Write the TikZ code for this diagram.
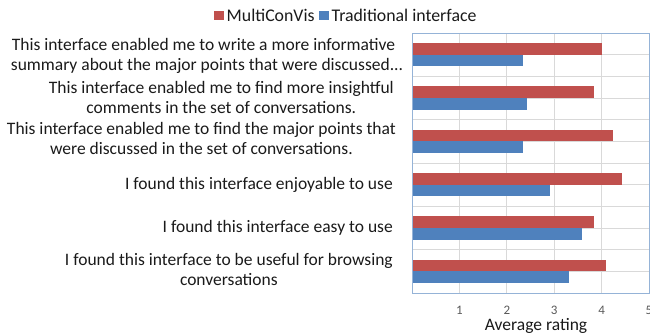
\documentclass[tikz,border=0pt]{standalone}
\usepackage{fontspec}
\setmainfont{Carlito}
\definecolor{mcv}{HTML}{C0504D}
\definecolor{trad}{HTML}{4F81BD}
\definecolor{gridc}{HTML}{D9D9D9}
\definecolor{framec}{HTML}{95B3D7}
\definecolor{txt}{HTML}{1A1A1A}
\definecolor{tick}{HTML}{595959}
\begin{document}
\begin{tikzpicture}[x=1pt,y=-1pt,
  gridline/.style={draw=gridc,line width=0.8pt},
  plotframe/.style={draw=framec,line width=1pt},
  catlabel/.style={inner sep=0pt,align=center,text=txt,font=\fontsize{17.5}{20.5}\selectfont},
  legtext/.style={inner sep=0pt,anchor=west,text=txt,font=\fontsize{17.8}{21}\selectfont},
  ticklabel/.style={inner sep=0pt,text=tick,font=\fontsize{13}{15}\selectfont},
  redbar/.style={fill=mcv},
  bluebar/.style={fill=trad}]
\useasboundingbox (0,0) rectangle (650,335);
% gridlines
\foreach \k in {1,...,4} \draw[gridline] ({412+47.4*\k},33) -- ({412+47.4*\k},293);
\foreach \j in {1,...,11} \draw[gridline] (412,{33+21.667*\j}) -- (649,{33+21.667*\j});
% bars
\foreach \i/\r/\b in {1/4.01/2.35, 2/3.84/2.43, 3/4.25/2.35, 4/4.43/2.92, 5/3.84/3.59, 6/4.09/3.31}{
  \pgfmathsetmacro{\c}{33+43.333*(\i-0.5)}
  \fill[redbar] (412,{\c-11.6}) rectangle ({412+47.4*\r},\c);
  \fill[bluebar] (412,\c) rectangle ({412+47.4*\b},{\c+11.6});
}
% frame
\draw[plotframe] (412,33) rectangle (649,293);
% tick labels
\foreach \k in {1,...,5} \node[ticklabel] (t\k) at ({412+47.4*\k},310.5) {\k};
\node[catlabel] (xlab) at (536,325.5) {Average rating};
% category labels
\node[catlabel] (c1) at (207,56) {This interface enabled me to write a more informative\hspace*{7pt}\\summary about the major points that were discussed...};
\node[catlabel,anchor=east] (c2) at (394,97.5) {This interface enabled me to find more insightful\\comments in the set of conversations.};
\node[catlabel,anchor=east] (c3) at (396,138.5) {This interface enabled me to find the major points that\\were discussed in the set of conversations.};
\node[catlabel,anchor=east] (c4) at (393,185) {I found this interface enjoyable to use};
\node[catlabel,anchor=east] (c5) at (393,228) {I found this interface easy to use};
\node[catlabel,anchor=east] (c6) at (393,269.5) {I found this interface to be useful for browsing\\conversations};
% legend
\fill[mcv] (214,11) rectangle (224,20);
\node[legtext] (l1) at (226.5,15.5) {MultiConVis};
\fill[trad] (318.5,11) rectangle (328.5,20);
\node[legtext] (l2) at (331.5,15.5) {Traditional interface};
\end{tikzpicture}
\end{document}
